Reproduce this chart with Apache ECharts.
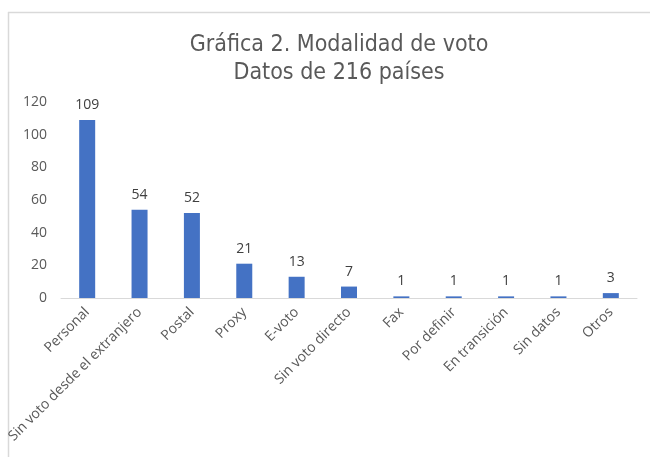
<!DOCTYPE html>
<html><head><meta charset="utf-8">
<script src="https://cdn.jsdelivr.net/npm/echarts@6/dist/echarts.min.js"></script>
<style>html,body{margin:0;padding:0;background:#fff}#c{width:650px;height:457px}</style>
</head><body><div id="c"></div>
<script>
const categories = ["Personal","Sin voto desde el extranjero","Postal","Proxy","E-voto","Sin voto directo","Fax","Por definir","En transición","Sin datos","Otros"];
const values = [109,54,52,21,13,7,1,1,1,1,3];
const yTicks = {min:0, max:120, interval:20};
const titleLines = ["Gráfica 2. Modalidad de voto","Datos de 216 países"];

const chart = echarts.init(document.getElementById('c'), null, {renderer:'canvas'});
chart.setOption({
  animation:false,
  backgroundColor:'#fff',
  title:{
    text: titleLines.join('\n'),
    left: 334, top: 26, textAlign:'center',
    textStyle:{fontFamily:'DejaVu Sans Condensed, DejaVu Sans', fontWeight:'normal', fontSize:23, color:'#595959', lineHeight:28}
  },
  graphic:[
    {type:'line', shape:{x1:8.5,y1:12,x2:8.5,y2:457}, style:{stroke:'#d9d9d9', lineWidth:1.5}},
    {type:'line', shape:{x1:8,y1:12.5,x2:650,y2:12.5}, style:{stroke:'#d9d9d9', lineWidth:1.5}}
  ],
  grid:{left:61, right:13, top:102, bottom:159, containLabel:false},
  xAxis:{
    type:'category', data:categories,
    axisLine:{lineStyle:{color:'#d9d9d9'}},
    axisTick:{show:false},
    axisLabel:{rotate:45, interval:0, color:'#595959', fontFamily:'Open Sans, Liberation Sans', fontSize:14, margin:12}
  },
  yAxis:{
    type:'value', min:yTicks.min, max:yTicks.max, interval:yTicks.interval,
    axisLine:{show:false}, axisTick:{show:false},
    splitLine:{show:false},
    axisLabel:{color:'#595959', fontFamily:'Open Sans, Liberation Sans', fontSize:14, margin:14}
  },
  series:[{
    type:'bar', data:values, barWidth:16,
    itemStyle:{color:'#4472c4'},
    label:{show:true, position:'top', distance:8, color:'#404040', fontFamily:'Open Sans, Liberation Sans', fontSize:14}
  }]
});
</script></body></html>
